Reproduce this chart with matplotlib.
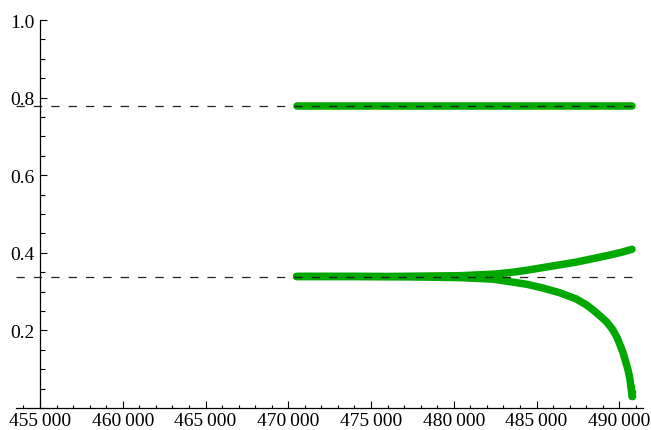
import matplotlib
matplotlib.use("Agg")
import matplotlib.pyplot as plt
from matplotlib.ticker import FixedLocator, MultipleLocator, FuncFormatter

# Branch values versus parameter
x_top = [470500, 475000, 480000, 485000, 490750]
y_top = [0.778, 0.778, 0.778, 0.778, 0.778]

x_up = [470500, 476000, 480400, 482400, 483400, 484400, 485400,
        486400, 487400, 488400, 489400, 490100, 490765]
y_up = [0.339, 0.339, 0.341, 0.345, 0.349, 0.355, 0.362,
        0.369, 0.376, 0.385, 0.394, 0.401, 0.409]

x_low = [470500, 474000, 477000, 479000, 480400, 482400, 484400, 485400,
         486400, 487400, 488000, 488400, 488900, 489250, 489600, 489860,
         490050, 490220, 490380, 490520, 490630, 490700, 490740, 490765]
y_low = [0.339, 0.339, 0.338, 0.337, 0.336, 0.332, 0.319, 0.309,
         0.297, 0.281, 0.266, 0.253, 0.235, 0.221, 0.202, 0.182,
         0.162, 0.143, 0.120, 0.099, 0.077, 0.055, 0.042, 0.030]

# Reference levels
levels = [0.778, 0.338]
level_span = [453550, 490750]

x_major = [455000, 460000, 465000, 470000, 475000, 480000, 485000, 490000]
y_major = [0.2, 0.4, 0.6, 0.8, 1.0]

plt.rcParams["font.family"] = ["Liberation Serif", "DejaVu Serif"]
plt.rcParams["lines.scale_dashes"] = False

fig = plt.figure(figsize=(6.51, 4.31), dpi=100)
ax = fig.add_axes([16 / 651, 22 / 431, 627 / 651, 388 / 431])

green = "#00a800"
for xs, ys in [(x_top, y_top), (x_up, y_up), (x_low, y_low)]:
    ax.plot(xs, ys, color=green, lw=5.4, solid_capstyle="round",
            solid_joinstyle="round", zorder=2)
# separated points at the steep end of the lower branch
ax.plot(x_low[-3:], y_low[-3:], "o", color=green, ms=5.5, mec="none", zorder=2)

for lv in levels:
    ax.plot(level_span, [lv, lv], color="#222222", lw=0.9,
            dashes=(6, 6.5), zorder=3)

ax.set_xlim(453550, 491430)
ax.set_ylim(0, 1.0)

for s in ["top", "right"]:
    ax.spines[s].set_visible(False)
ax.spines["left"].set_position(("data", 455000))
ax.spines["bottom"].set_position(("data", 0))
ax.spines["left"].set_linewidth(0.9)
ax.spines["bottom"].set_linewidth(0.9)

ax.xaxis.set_major_locator(FixedLocator(x_major))
ax.xaxis.set_minor_locator(MultipleLocator(1000))
ax.yaxis.set_major_locator(FixedLocator(y_major))
ax.yaxis.set_minor_locator(MultipleLocator(0.05))
ax.xaxis.set_major_formatter(FuncFormatter(lambda v, p: f"{int(v):,}".replace(",", "\u2009")))
ax.yaxis.set_major_formatter(FuncFormatter(lambda v, p: f"{v:.1f}"))

ax.tick_params(which="both", direction="in", width=0.8, labelsize=14)
ax.tick_params(axis="x", which="major", length=5, pad=3)
ax.tick_params(axis="x", which="minor", length=2.5)
ax.tick_params(axis="y", which="major", length=5, pad=4)
ax.tick_params(axis="y", which="minor", length=3.5)

fig.savefig("out.png", dpi=100)
